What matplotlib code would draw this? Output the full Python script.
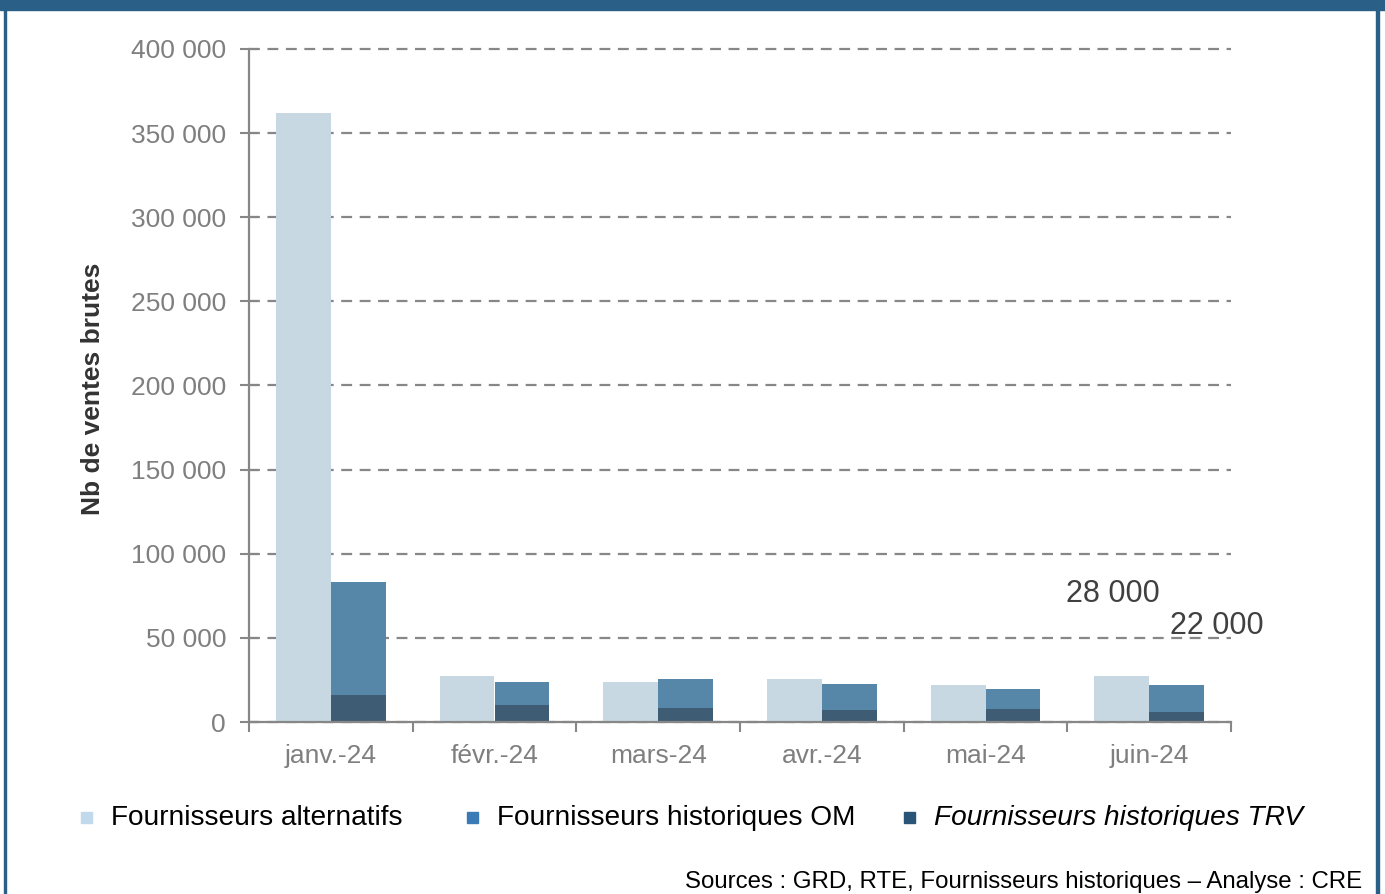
import numpy as np
import matplotlib.pyplot as plt
from matplotlib.patches import Rectangle

plt.rcParams['font.family'] = ['Liberation Sans', 'DejaVu Sans']

mois = ['janv.-24', 'févr.-24', 'mars-24', 'avr.-24', 'mai-24', 'juin-24']
alternatifs = [362000, 27500, 23500, 25800, 21800, 27500]
historiques_om = [83000, 23800, 25800, 22700, 19700, 21800]   # total OM + TRV
historiques_trv = [16000, 10300, 8300, 7100, 7900, 6000]
series = ['Fournisseurs alternatifs', 'Fournisseurs historiques OM',
          'Fournisseurs historiques TRV']
etiquettes = ['28 000', '22 000']

c_alt = '#c7d8e3'
c_om = '#5687a8'
c_trv = '#3e5c74'
gris = '#878787'

fig = plt.figure(figsize=(13.85, 8.94), dpi=100)
ax = fig.add_axes([249 / 1385, 1 - 722 / 894, 982 / 1385, 673 / 894])

x = np.arange(len(mois))
w = 0.335
ax.bar(x - w / 2, alternatifs, w, color=c_alt, zorder=3)
ax.bar(x + w / 2, historiques_om, w, color=c_om, zorder=3)
ax.bar(x + w / 2, historiques_trv, w, color=c_trv, zorder=4)

ax.set_xlim(-0.5, len(mois) - 0.5)
ax.set_ylim(0, 400000)
yt = np.arange(0, 400001, 50000)
ax.set_yticks(yt)
ax.set_yticklabels(['0' if v == 0 else f'{v // 1000} 000' for v in yt])
ax.set_xticks(x)
ax.set_xticklabels(mois)
ax.set_xticks(np.arange(-0.5, len(mois), 1), minor=True)

ax.tick_params(axis='y', direction='inout', length=13, width=1.5, color=gris,
               labelsize=19, labelcolor='#7f7f7f', pad=10)
ax.tick_params(axis='x', which='major', length=0, labelsize=19,
               labelcolor='#7f7f7f', pad=15.5)
ax.tick_params(axis='x', which='minor', direction='out', length=7, width=1.5,
               color=gris)

for s in ['top', 'right']:
    ax.spines[s].set_visible(False)
for s in ['left', 'bottom']:
    ax.spines[s].set_color(gris)
    ax.spines[s].set_linewidth(1.6)
    ax.spines[s].set_zorder(5)

ax.grid(axis='y', color=gris, linewidth=1.6, dashes=(4.9, 3.4), zorder=1)
ax.grid(axis='x', visible=False)
for gl in ax.get_ygridlines():
    gl.set_clip_on(False)

ax.set_ylabel('Nb de ventes brutes', fontsize=19, fontweight='bold',
              color='#333333')
ax.yaxis.set_label_coords(-0.147, 0.4955)

# étiquettes de juin
ax.text(x[-1] - 0.22, alternatifs[-1] + 48600, etiquettes[0], fontsize=22,
        color='#404040', ha='center', va='center')
ax.text(x[-1] + 0.414, historiques_om[-1] + 35200, etiquettes[1], fontsize=22,
        color='#404040', ha='center', va='center')

# légende
leg_couleurs = ['#c0d9ec', '#3a7bb5', '#2a5577']
leg_x = [81, 467, 904]
leg_y = 1 - 818 / 894
for i, (nom, c, px) in enumerate(zip(series, leg_couleurs, leg_x)):
    fig.patches.append(Rectangle((px / 1385, leg_y - 5 / 894), 11 / 1385,
                                 11 / 894, color=c, transform=fig.transFigure,
                                 figure=fig))
    fig.text((px + 30) / 1385, leg_y, nom, fontsize=20.2, va='center',
             ha='left', color='black',
             fontstyle='italic' if i == 2 else 'normal')

fig.text(1362 / 1385, 1 - 882 / 894,
         'Sources : GRD, RTE, Fournisseurs historiques – Analyse : CRE',
         fontsize=17.3, ha='right', va='center', color='black')

# cadre
cadre = '#2a5f87'
fig.patches.append(Rectangle((0, 1 - 10 / 894), 1, 10 / 894, color=cadre,
                             transform=fig.transFigure, figure=fig))
fig.patches.append(Rectangle((4 / 1385, 0), 2 / 1385, 1, color=cadre,
                             transform=fig.transFigure, figure=fig))
fig.patches.append(Rectangle((1376 / 1385, 0), 3 / 1385, 1, color=cadre,
                             transform=fig.transFigure, figure=fig))

fig.savefig('out.png', dpi=100)
